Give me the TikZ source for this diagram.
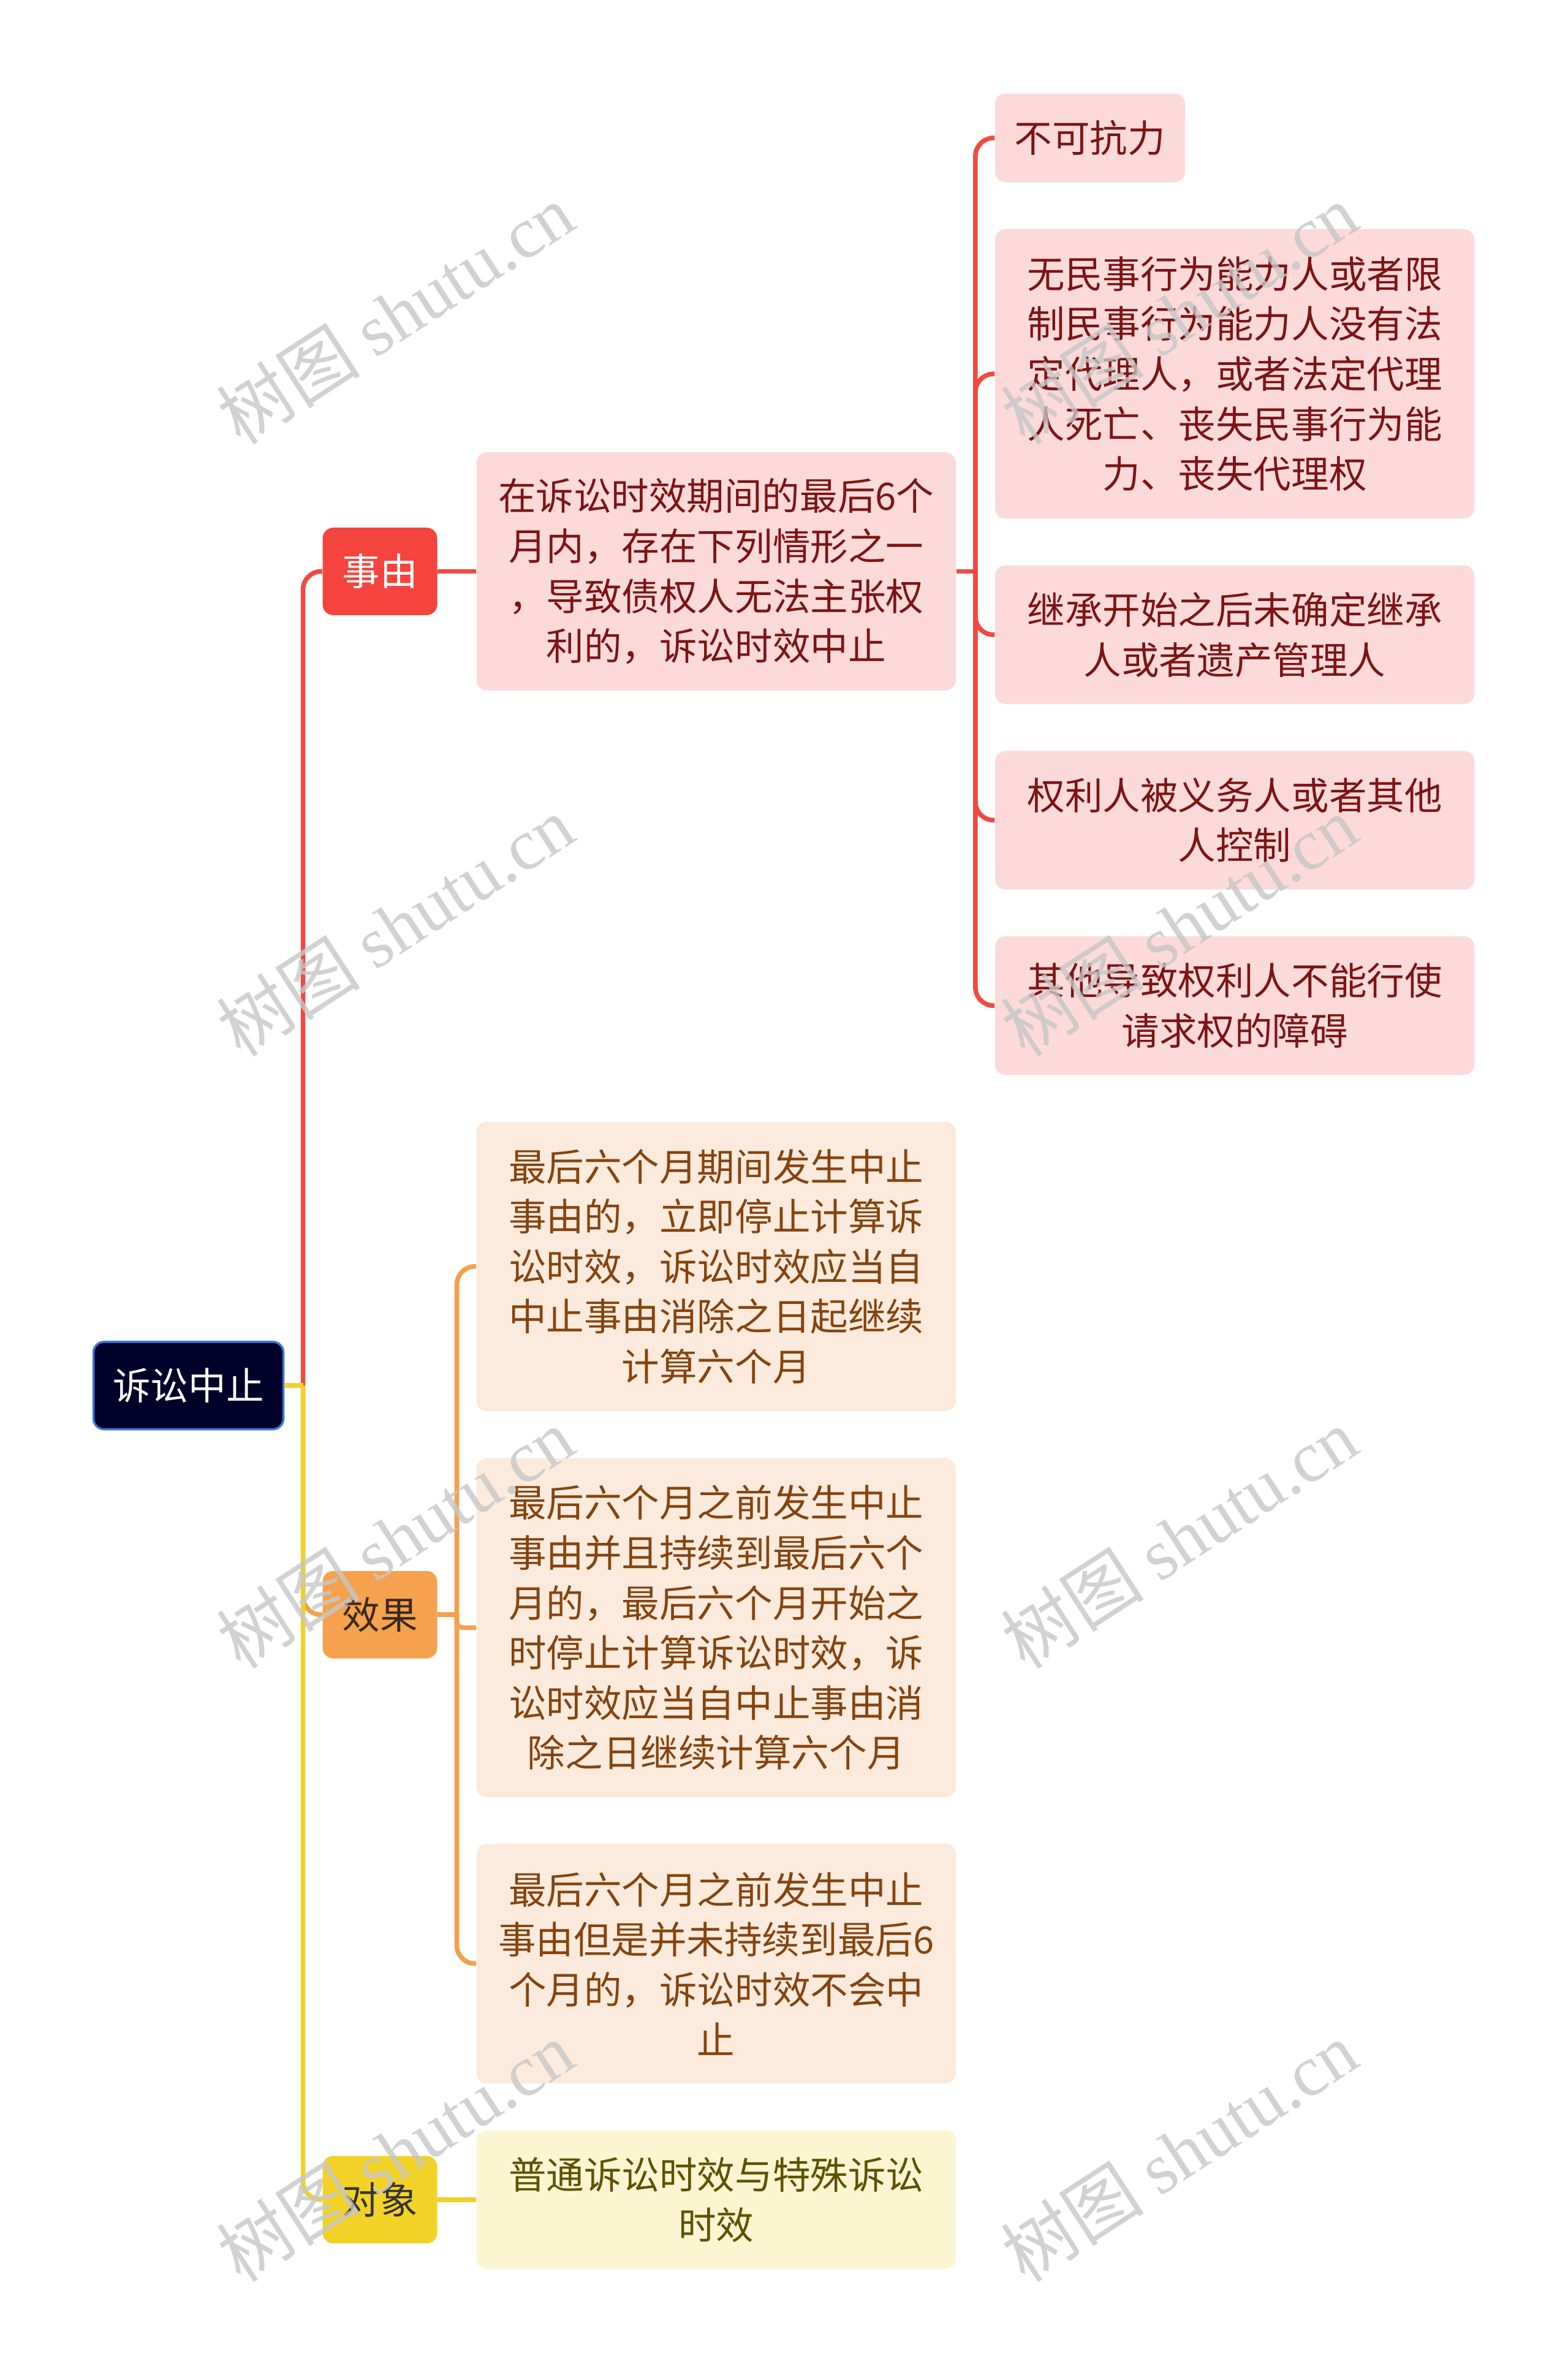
\documentclass[tikz,border=0pt]{standalone}
\usepackage{fontspec}
\setmainfont{Noto Sans CJK SC}
\newfontfamily\wmserif{Liberation Serif}
\usetikzlibrary{positioning}
\newcommand{\boxfont}{\fontsize{17.8pt}{23.6pt}\selectfont}

\definecolor{rootfill}{HTML}{01022A}
\definecolor{rootedge}{HTML}{3C78D8}
\definecolor{causered}{HTML}{F5443D}
\definecolor{causefill}{HTML}{FDDADA}
\definecolor{causetext}{HTML}{7D1414}
\definecolor{causeline}{HTML}{F04A42}
\definecolor{efforange}{HTML}{F6A14D}
\definecolor{efffill}{HTML}{FCEBDC}
\definecolor{efftext}{HTML}{85440F}
\definecolor{efftag}{HTML}{3A2A1A}
\definecolor{effline}{HTML}{F3A04F}
\definecolor{objyellow}{HTML}{F2D226}
\definecolor{objfill}{HTML}{FBF5D2}
\definecolor{objtext}{HTML}{5E5200}
\definecolor{objtag}{HTML}{333333}
\definecolor{objline}{HTML}{F0D12A}

\begin{document}
\begin{tikzpicture}[
 rootbox/.style={draw=rootedge, line width=1pt, fill=rootfill, text=white,
 rounded corners=5pt, minimum width=3.15cm, minimum height=1.45cm, font=\boxfont},
 tag/.style={fill=#1, rounded corners=5pt, minimum width=1.9cm,
 minimum height=1.45cm, font=\boxfont},
 leaf/.style={fill=#1, rounded corners=5pt, minimum width=7.95cm, text width=7.5cm,
 inner sep=0pt, align=center, font=\boxfont},
 link/.style={line width=2.2pt, draw=#1, rounded corners=0.3cm},
 wmark/.style={rotate=33, text=black!22, opacity=0.8, font=\fontsize{34pt}{34pt}\selectfont}
]
\useasboundingbox (0,0) rectangle (26,-39.2);

% Root
\node[rootbox] (root) at (3.125,-22.975) {诉讼中止};

% Level 1
\node[tag=causered, text=white] (cause) at (6.3,-9.475) {事由};
\node[tag=efforange, text=efftag] (effect) at (6.3,-26.775) {效果};
\node[tag=objyellow, text=objtag] (object) at (6.3,-36.475) {对象};

% Level 2
\node[leaf=causefill, text=causetext, minimum height=3.95cm] (cond) at (11.875,-9.475)
 {在诉讼时效期间的最后6个\\月内，存在下列情形之一\\，导致债权人无法主张权\\利的，诉讼时效中止};
\node[leaf=efffill, text=efftext, minimum height=4.8cm] (eff1) at (11.875,-21.0)
 {最后六个月期间发生中止\\事由的，立即停止计算诉\\讼时效，诉讼时效应当自\\中止事由消除之日起继续\\计算六个月};
\node[leaf=efffill, text=efftext, minimum height=5.625cm] (eff2) at (11.875,-26.99)
 {最后六个月之前发生中止\\事由并且持续到最后六个\\月的，最后六个月开始之\\时停止计算诉讼时效，诉\\讼时效应当自中止事由消\\除之日继续计算六个月};
\node[leaf=efffill, text=efftext, minimum height=3.975cm] (eff3) at (11.875,-32.56)
 {最后六个月之前发生中止\\事由但是并未持续到最后6\\个月的，诉讼时效不会中\\止};
\node[leaf=objfill, text=objtext, minimum height=2.3cm] (obj1) at (11.875,-36.475)
 {普通诉讼时效与特殊诉讼\\时效};

% Level 3: situations
\node[leaf=causefill, text=causetext, minimum width=3.15cm, text width=2.8cm,
 minimum height=1.475cm] (sit1) at (18.075,-2.2875) {不可抗力};
\node[leaf=causefill, text=causetext, minimum height=4.8cm] (sit2) at (20.475,-6.2)
 {无民事行为能力人或者限\\制民事行为能力人没有法\\定代理人，或者法定代理\\人死亡、丧失民事行为能\\力、丧失代理权};
\node[leaf=causefill, text=causetext, minimum height=2.3cm] (sit3) at (20.475,-10.525)
 {继承开始之后未确定继承\\人或者遗产管理人};
\node[leaf=causefill, text=causetext, minimum height=2.3cm] (sit4) at (20.475,-13.6)
 {权利人被义务人或者其他\\人控制};
\node[leaf=causefill, text=causetext, minimum height=2.3cm] (sit5) at (20.475,-16.675)
 {其他导致权利人不能行使\\请求权的障碍};

% Trunk from root
\coordinate (rj) at (5.025,-22.975);
\draw[link=causeline] (rj) |- (cause.west);
\draw[link=effline] (rj) |- (effect.west);
\draw[link=objline] (rj) |- (object.west);
\draw[link=objline] (root.east) -- (rj);

% Cause branch
\draw[link=causeline] (cause.east) -- (cond.west);
\coordinate (cj) at (16.175,-9.475);
\draw[link=causeline] (cond.east) -- (cj);
\draw[link=causeline] (cj) |- (sit1.west);
\draw[link=causeline] (cj) |- (sit2.west);
\draw[link=causeline] (cj) |- (sit3.west);
\draw[link=causeline] (cj) |- (sit4.west);
\draw[link=causeline] (cj) |- (sit5.west);

% Effect branch
\coordinate (ej) at (7.575,-26.775);
\draw[link=effline] (effect.east) -- (ej);
\draw[link=effline] (ej) |- (eff1.west);
\draw[link=effline, rounded corners=0.1cm] (ej) |- (eff2.west);
\draw[link=effline] (ej) |- (eff3.west);

% Object branch
\draw[link=objline] (object.east) -- (obj1.west);

% Watermarks
\node[wmark] (wm1) at (6.55,-5.2) {树图 {\wmserif shutu.cn}};
\node[wmark] (wm2) at (19.55,-5.2) {树图 {\wmserif shutu.cn}};
\node[wmark] (wm3) at (6.55,-15.35) {树图 {\wmserif shutu.cn}};
\node[wmark] (wm4) at (19.55,-15.35) {树图 {\wmserif shutu.cn}};
\node[wmark] (wm5) at (6.55,-25.5) {树图 {\wmserif shutu.cn}};
\node[wmark] (wm6) at (19.55,-25.5) {树图 {\wmserif shutu.cn}};
\node[wmark] (wm7) at (6.55,-35.675) {树图 {\wmserif shutu.cn}};
\node[wmark] (wm8) at (19.55,-35.675) {树图 {\wmserif shutu.cn}};
\end{tikzpicture}
\end{document}
